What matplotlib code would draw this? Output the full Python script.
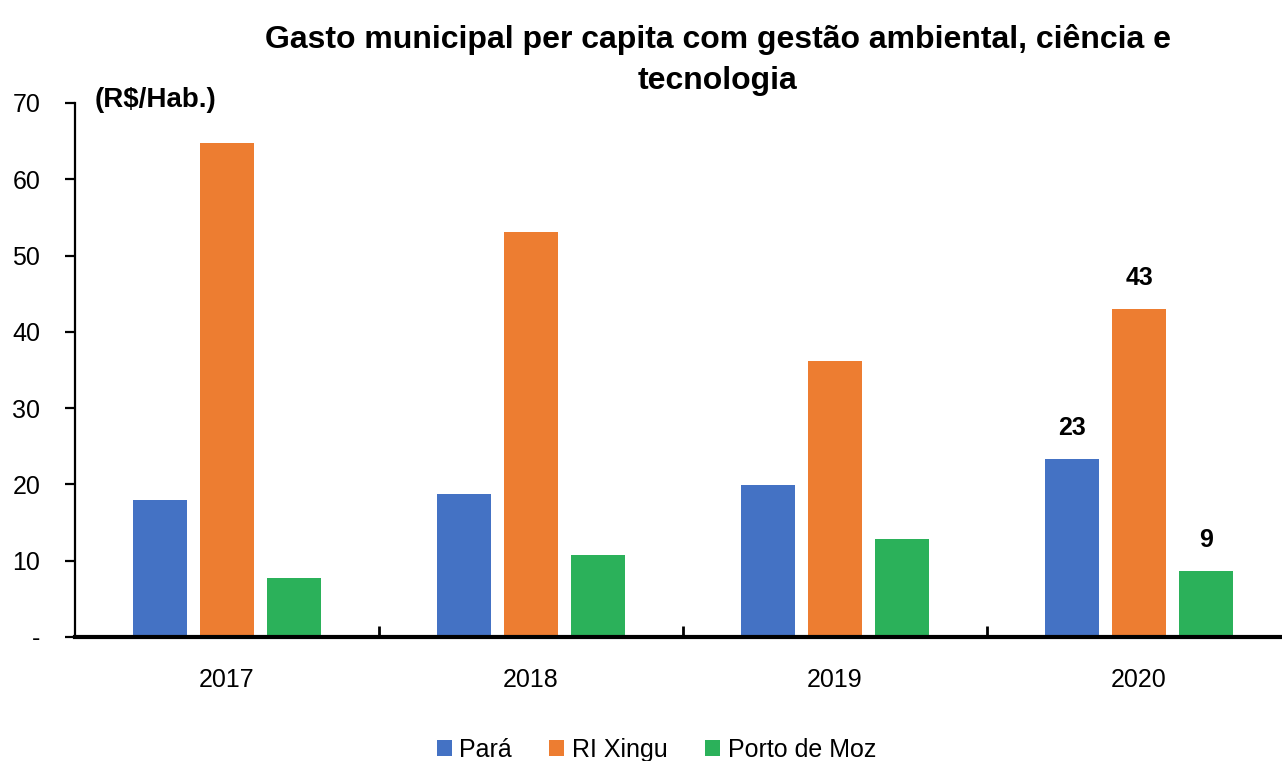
import matplotlib
matplotlib.use("Agg")
import matplotlib.pyplot as plt
import numpy as np
from matplotlib import font_manager as fm

# Data (R$ per inhabitant)
years = ["2017", "2018", "2019", "2020"]
series_names = ["Pará", "RI Xingu", "Porto de Moz"]
para = [18.0, 18.7, 19.9, 23.3]
ri_xingu = [64.8, 53.1, 36.2, 43.0]
porto_de_moz = [7.7, 10.8, 12.8, 8.6]
y_ticks = [0, 10, 20, 30, 40, 50, 60, 70]
y_tick_labels = ["-", "10", "20", "30", "40", "50", "60", "70"]
colors = ["#4472C4", "#ED7D31", "#2BB15A"]

installed = {f.name for f in fm.fontManager.ttflist}
narrow = "Liberation Sans Narrow" if "Liberation Sans Narrow" in installed else "Liberation Sans"
plt.rcParams["font.family"] = [narrow, "DejaVu Sans"]

fig = plt.figure(figsize=(12.82, 7.61), dpi=100)
ax = fig.add_axes([75 / 1282, 124 / 761, 1216 / 1282, 534 / 761])

x = np.arange(len(years))
width = 0.178
offset = 0.22
all_series = [para, ri_xingu, porto_de_moz]
bars = []
for i, (vals, name, c) in enumerate(zip(all_series, series_names, colors)):
    b = ax.bar(x + (i - 1) * offset, vals, width, color=c, label=name, zorder=2)
    bars.append(b)

# Value labels on the last year
last = len(years) - 1
for i, vals in enumerate(all_series):
    ax.annotate(f"{vals[last]:.0f}", (x[last] + (i - 1) * offset, vals[last]),
                xytext=(0, 14), textcoords="offset points", ha="center", va="bottom",
                fontsize=18, fontweight="bold")

ax.set_xlim(-0.5, 3.5)
ax.set_ylim(0, 70)
ax.set_yticks(y_ticks)
ax.set_yticklabels(y_tick_labels)
ax.set_xticks(x)
ax.set_xticklabels(years)
ax.set_xticks([0.5, 1.5, 2.5], minor=True)

for s in ["top", "right"]:
    ax.spines[s].set_visible(False)
ax.spines["left"].set_linewidth(1.6)
ax.spines["bottom"].set_linewidth(3)
ax.tick_params(axis="y", direction="out", length=7, width=1.6, labelsize=18, pad=18)
ax.tick_params(axis="x", which="major", length=0, labelsize=18, pad=22)
ax.tick_params(axis="x", which="minor", direction="in", length=8, width=2)

fig.text(0.56, 1 - 60 / 761, "Gasto municipal per capita com gestão ambiental, ciência e\ntecnologia",
         ha="center", va="center", fontsize=23, fontweight="bold", linespacing=1.5)
fig.text(95 / 1282, 1 - 100 / 761, "(R$/Hab.)", ha="left", va="center",
         fontsize=20, fontweight="bold")

fig.legend(handles=bars, labels=series_names, loc="center", bbox_to_anchor=(0.512, 0.015),
           ncol=3, frameon=False, fontsize=18, handlelength=0.6, handleheight=0.6,
           handletextpad=0.3, columnspacing=1.5)

fig.savefig("out.png", dpi=100)
